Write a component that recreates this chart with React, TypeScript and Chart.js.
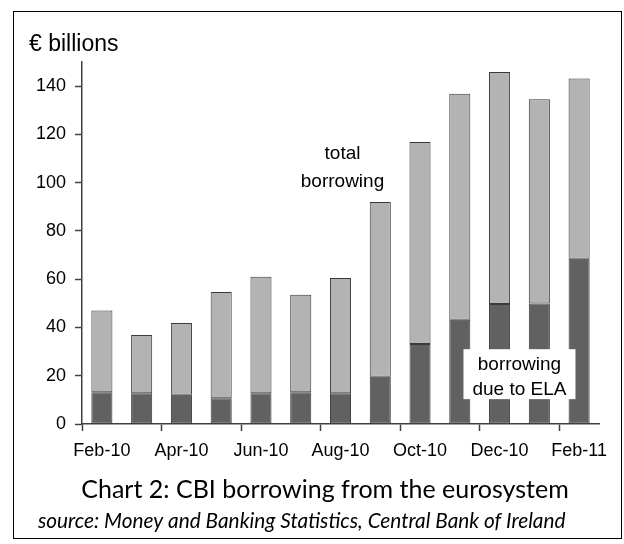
import React, { useEffect, useRef } from "react";
import { Chart, registerables } from "chart.js";

Chart.register(...registerables);

const months = ["Feb-10", "Mar-10", "Apr-10", "May-10", "Jun-10", "Jul-10", "Aug-10", "Sep-10", "Oct-10", "Nov-10", "Dec-10", "Jan-11", "Feb-11"];
const totalBorrowing = [47.0, 36.9, 41.8, 54.7, 61.0, 53.6, 60.5, 92.0, 116.8, 136.8, 145.9, 134.6, 143.2];
const elaBorrowing = [13.2, 12.7, 12.1, 10.7, 12.7, 13.2, 12.7, 19.6, 33.1, 43.2, 49.7, 49.9, 68.5];
const yTickValues = [0, 20, 40, 60, 80, 100, 120, 140];
const yAxisLabel = "€ billions";
const chartTitle = "Chart 2: CBI borrowing from the eurosystem";
const chartSource = "source: Money and Banking Statistics, Central Bank of Ireland";
const noteTotal = ["total", "borrowing"];
const noteEla = ["borrowing", "due to ELA"];

const AXIS_FONT = "'Liberation Sans', Arial, sans-serif";
const TITLE_FONT = "Lato, 'Open Sans', sans-serif";

export default function App() {
  const ref = useRef<HTMLCanvasElement | null>(null);

  useEffect(() => {
    if (!ref.current) return;
    const otherBorrowing = totalBorrowing.map((t, i) => Math.max(0, t - elaBorrowing[i]));

    const notes = {
      id: "notes",
      afterDraw(chart: any) {
        const ctx = chart.ctx;
        const xs = chart.scales.x;
        const ys = chart.scales.y;
        ctx.save();
        ctx.fillStyle = "#000";
        // y axis unit label
        ctx.font = `23px ${AXIS_FONT}`;
        ctx.textAlign = "left";
        ctx.textBaseline = "middle";
        ctx.fillText(yAxisLabel, 29, 45);

        // total borrowing note
        ctx.font = `19px ${AXIS_FONT}`;
        ctx.textAlign = "center";
        const tx = xs.getPixelForValue(6) + 2;
        ctx.fillText(noteTotal[0], tx, ys.getPixelForValue(112));
        ctx.fillText(noteTotal[1], tx, ys.getPixelForValue(100.5));

        // ELA note with white box
        const ex = (xs.getPixelForValue(10) + xs.getPixelForValue(11)) / 2;
        const top = ys.getPixelForValue(31);
        const bottom = ys.getPixelForValue(10.3);
        ctx.fillStyle = "#fff";
        ctx.fillRect(ex - 56, top, 112, bottom - top);
        ctx.fillStyle = "#000";
        ctx.fillText(noteEla[0], ex, ys.getPixelForValue(24.5));
        ctx.fillText(noteEla[1], ex, ys.getPixelForValue(14.2));

        // title and source
        ctx.font = `25px ${TITLE_FONT}`;
        ctx.fillText(chartTitle, 325, 490);
        ctx.font = `italic 20.8px ${TITLE_FONT}`;
        ctx.textAlign = "left";
        ctx.fillText(chartSource, 38, 521);
        ctx.restore();
      },
    };

    const chart = new Chart(ref.current, {
      type: "bar",
      data: {
        labels: months,
        datasets: [
          {
            label: "borrowing due to ELA",
            data: elaBorrowing,
            backgroundColor: "#616161",
            borderColor: "#3a3a3a",
            borderWidth: 1,
            borderSkipped: false,
            barPercentage: 0.53,
            categoryPercentage: 1,
          },
          {
            label: "total borrowing",
            data: otherBorrowing,
            backgroundColor: "#b3b3b3",
            borderColor: "#3a3a3a",
            borderWidth: 1,
            borderSkipped: false,
            barPercentage: 0.53,
            categoryPercentage: 1,
          },
        ],
      },
      options: {
        responsive: false,
        animation: false,
        devicePixelRatio: 1,
        layout: { padding: { top: 62, right: 25, left: 0, bottom: 0 } },
        plugins: { legend: { display: false }, tooltip: { enabled: false }, title: { display: false } },
        scales: {
          x: {
            stacked: true,
            afterFit: (s: any) => { s.height = 120; },
            border: { display: true, color: "#404040", width: 1.5 },
            grid: {
              offset: true,
              drawOnChartArea: false,
              drawTicks: true,
              tickLength: 7,
              tickWidth: 1.5,
              tickColor: (c: any) => (typeof c.index === "number" && c.index % 2 === 0 ? "#404040" : "rgba(0,0,0,0)"),
            },
            ticks: {
              autoSkip: false,
              maxRotation: 0,
              padding: 9,
              color: "#000",
              font: { family: AXIS_FONT, size: 18 },
              callback: (_v: any, i: number) => (i % 2 === 0 ? months[i] : ""),
            },
          },
          y: {
            stacked: true,
            min: 0,
            max: 150,
            afterFit: (s: any) => { s.width = 82; },
            afterBuildTicks: (s: any) => { s.ticks = yTickValues.map((v) => ({ value: v })); },
            border: { display: true, color: "#404040", width: 1.5 },
            grid: { drawOnChartArea: false, drawTicks: true, tickLength: 7, tickWidth: 1.5, tickColor: "#404040" },
            ticks: { stepSize: 20, padding: 9, color: "#000", font: { family: AXIS_FONT, size: 18 } },
          },
        },
      },
      plugins: [notes],
    });
    return () => chart.destroy();
  }, []);

  return (
    <div style={{ position: "absolute", left: 0, top: 0, width: 624, height: 544, background: "#fff" }}>
      <canvas ref={ref} width={624} height={544} style={{ position: "absolute", left: 0, top: 0 }} />
      <div style={{ position: "absolute", left: 13, top: 11, width: 609, height: 528, border: "1.5px solid #000", boxSizing: "border-box", pointerEvents: "none" }} />
    </div>
  );
}
